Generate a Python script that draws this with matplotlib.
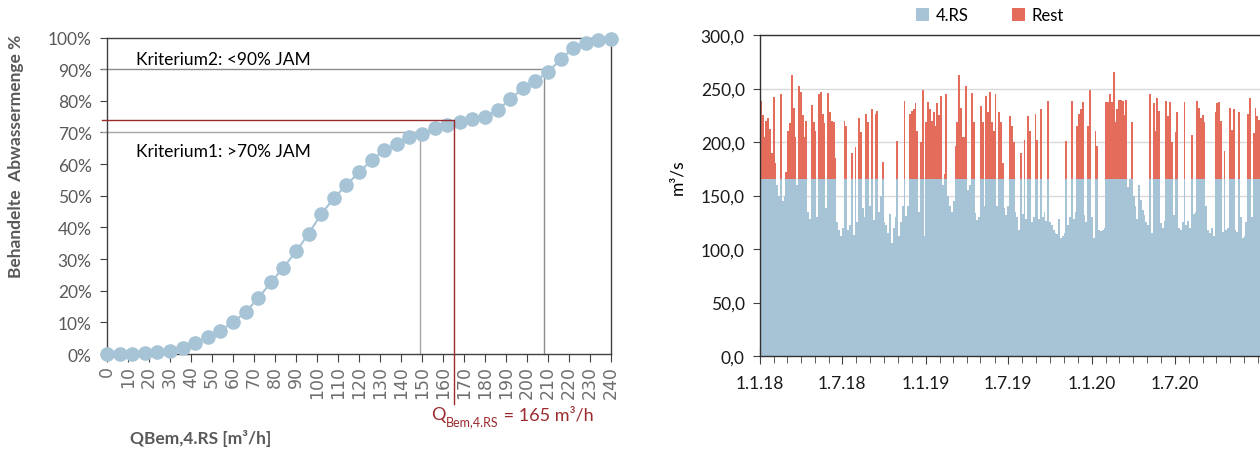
import numpy as np
import pandas as pd
import matplotlib
matplotlib.use("Agg")
import matplotlib.pyplot as plt
import matplotlib.dates as mdates
from matplotlib.patches import Patch

plt.rcParams["font.family"] = ["Lato", "DejaVu Sans"]

# --- left panel: treated share of annual wastewater vs. design flow ---
q_bem = [0, 6, 12, 18, 24, 30, 36, 42, 48, 54, 60, 66, 72, 78, 84, 90, 96,
         102, 108, 114, 120, 126, 132, 138, 144, 150, 156, 162, 168, 174,
         180, 186, 192, 198, 204, 210, 216, 222, 228, 234, 240]
treated_pct = [0, 0, 0, 0.2, 0.7, 1, 2, 3.6, 5.3, 7.4, 10, 13.3, 17.6, 22.6,
               27.3, 32.4, 38, 44.2, 49.2, 53.4, 57.4, 61.2, 64.4, 66.5, 68.5,
               69.6, 71.5, 72.4, 73.3, 74.1, 75, 77.1, 80.5, 83.9, 86.4, 89,
               93.1, 96.7, 98.4, 99.3, 99.5]
q_ticks = [0, 10, 20, 30, 40, 50, 60, 70, 80, 90, 100, 110, 120, 130, 140,
           150, 160, 170, 180, 190, 200, 210, 220, 230, 240]
pct_ticks = [0, 10, 20, 30, 40, 50, 60, 70, 80, 90, 100]
pct_labels = ["0%", "10%", "20%", "30%", "40%", "50%", "60%", "70%", "80%",
              "90%", "100%"]
crit1_q, crit1_pct = 149, 70
crit2_q, crit2_pct = 208, 90
q_design, q_design_pct = 165, 74

# --- right panel: daily inflow split into 4.RS (capped) and rest, 4-day bins ---
flow_start = "2018-01-01"
bin_days = 4
total_flow = [
    238, 225, 205, 220, 222, 212, 190, 242, 180, 160,
    150, 245, 145, 150, 172, 210, 218, 263, 232, 205,
    160, 252, 247, 225, 205, 220, 135, 128, 235, 219,
    210, 130, 245, 247, 226, 218, 138, 246, 228, 220,
    219, 185, 125, 118, 112, 120, 220, 215, 118, 122,
    190, 113, 195, 125, 222, 209, 138, 130, 226, 219,
    140, 231, 127, 226, 229, 135, 150, 181, 125, 122,
    115, 133, 106, 120, 130, 201, 112, 125, 140, 238,
    131, 140, 226, 229, 231, 236, 210, 135, 200, 249,
    112, 219, 237, 231, 220, 228, 215, 236, 225, 243,
    160, 170, 245, 150, 140, 135, 145, 196, 219, 263,
    232, 205, 205, 252, 155, 160, 246, 219, 134, 127,
    130, 234, 219, 140, 243, 228, 247, 219, 210, 245,
    140, 228, 219, 180, 138, 132, 140, 224, 215, 200,
    135, 130, 118, 190, 133, 202, 128, 224, 210, 125,
    130, 226, 202, 128, 231, 130, 135, 126, 238, 125,
    122, 118, 115, 114, 128, 110, 112, 115, 201, 122,
    130, 238, 128, 135, 215, 226, 231, 237, 132, 125,
    215, 249, 130, 110, 210, 196, 118, 117, 118, 120,
    237, 237, 245, 237, 265, 219, 231, 239, 239, 238,
    225, 239, 158, 165, 219, 150, 140, 128, 160, 146,
    136, 132, 125, 122, 245, 115, 236, 210, 241, 229,
    124, 120, 126, 238, 224, 237, 200, 132, 209, 228,
    120, 118, 125, 237, 122, 126, 120, 207, 133, 135,
    238, 232, 222, 225, 219, 140, 118, 115, 120, 112,
    228, 236, 237, 220, 116, 192, 118, 120, 232, 211,
    231, 118, 116, 228, 130, 110, 112, 125, 226, 241,
    130, 208, 232, 224, 221,
]
rs_capacity = 165
date_ticks = ["2018-01-01", "2018-07-01", "2019-01-01", "2019-07-01",
              "2020-01-01", "2020-07-01"]
date_labels = ["1.1.18", "1.7.18", "1.1.19", "1.7.19", "1.1.20", "1.7.20"]
flow_ticks = [0, 50, 100, 150, 200, 250, 300]
flow_labels = ["0,0", "50,0", "100,0", "150,0", "200,0", "250,0", "300,0"]

BLUE = "#a7c4d6"
RED = "#e46c5b"
DARKRED = "#9b2a2c"
GRAY = "#595959"
W, H = 1260, 452

fig = plt.figure(figsize=(W / 100, H / 100), dpi=100)

# left chart
ax1 = fig.add_axes([107 / W, 1 - 355 / H, 504 / W, 316.5 / H])
ax1.plot(q_bem, treated_pct, "-o", color=BLUE, lw=1.5, ms=9.5,
         clip_on=False, zorder=3)
ax1.plot([-2.5, crit1_q, crit1_q], [crit1_pct, crit1_pct, 0],
         color="#a6a6a6", lw=1, clip_on=False, zorder=2)
ax1.plot([-2.5, crit2_q, crit2_q], [crit2_pct, crit2_pct, 0],
         color="#8c8c8c", lw=1, clip_on=False, zorder=2)
ax1.plot([-2.5, q_design, q_design], [q_design_pct, q_design_pct, -15.8],
         color=DARKRED, lw=1, clip_on=False, zorder=4)
ax1.set_xlim(0, 240)
ax1.set_ylim(0, 100)
ax1.set_xticks(q_ticks)
ax1.set_xticklabels([str(v) for v in q_ticks], rotation=90,
                    family="DejaVu Sans", fontsize=12.5, color="#6f6f6f")
ax1.set_yticks(pct_ticks)
ax1.set_yticklabels(pct_labels, fontsize=12.5, color=GRAY)
ax1.tick_params(axis="x", direction="out", length=6, color="#404040", pad=2)
ax1.tick_params(axis="y", direction="out", length=5, color="#404040", pad=6)
for side in ["left", "right", "top", "bottom"]:
    ax1.spines[side].set_color("#404040")
    ax1.spines[side].set_linewidth(1)

ax1.text(13.8, 93.2, "Kriterium2: <90% JAM", fontsize=12.5, va="center")
ax1.text(13.8, 64.1, "Kriterium1: >70% JAM", fontsize=12.5, va="center")

# design flow label: Q with subscript, chained text pieces
q_txt = ax1.text(154.5, -19, "Q", fontsize=13, color=DARKRED, va="center",
                 clip_on=False)
sub_txt = ax1.annotate("Bem,4.RS", xy=(1, 0.05), xycoords=q_txt,
                       fontsize=9, color=DARKRED, ha="left", va="center")
ax1.annotate(" = 165 m³/h", xy=(1, 0.5), xycoords=(sub_txt, q_txt),
             fontsize=13, color=DARKRED, ha="left", va="center")

fig.text(16 / W, 1 - 156 / H, "Behandelte  Abwassermenge %", rotation=90,
         ha="center", va="center", fontsize=12.5, fontweight="bold", color=GRAY)
fig.text(130 / W, 1 - 439 / H, "QBem,4.RS [m³/h]", ha="left", va="center",
         fontsize=12.5, fontweight="bold", color=GRAY)

# right chart
bin_start = pd.date_range(flow_start, periods=len(total_flow),
                          freq=f"{bin_days}D")
flow = np.array(total_flow, dtype=float)
rs_part = np.minimum(flow, rs_capacity)
rest_part = np.clip(flow - rs_capacity, 0, None)

ax2 = fig.add_axes([760 / W, 1 - 357 / H, 500 / W, 321 / H])
ax2.bar(bin_start, rs_part, width=bin_days, align="edge", color=BLUE,
        linewidth=0, zorder=2)
ax2.bar(bin_start, rest_part, width=bin_days, bottom=rs_part, align="edge",
        color=RED, linewidth=0, zorder=2)
ax2.set_xlim(pd.Timestamp(flow_start),
             pd.Timestamp(flow_start) + pd.Timedelta(days=1100))
ax2.set_ylim(0, 300)
ax2.set_yticks(flow_ticks)
ax2.set_yticklabels(flow_labels, fontsize=12.5, color="#1a1a1a")
ax2.set_xticks(pd.to_datetime(date_ticks))
ax2.set_xticklabels(date_labels, fontsize=12.5, color="#1a1a1a")
ax2.xaxis.set_minor_locator(mdates.MonthLocator())
ax2.tick_params(axis="x", which="major", direction="inout", length=12,
                color="#404040", pad=8)
ax2.tick_params(axis="x", which="minor", direction="out", length=5,
                color="#404040")
ax2.tick_params(axis="y", direction="out", length=5, color="#404040", pad=6)
ax2.grid(axis="y", color="#d9d9d9", lw=1)
ax2.set_axisbelow(True)
ax2.spines["right"].set_visible(False)
for side in ["left", "top", "bottom"]:
    ax2.spines[side].set_color("#303030")
    ax2.spines[side].set_linewidth(1)

fig.text(677 / W, 1 - 177 / H, "m³/s", rotation=90, ha="center",
         va="center", fontsize=12.5)

handles = [Patch(facecolor=BLUE, label="4.RS"),
           Patch(facecolor=RED, label="Rest")]
fig.legend(handles=handles, loc="center", bbox_to_anchor=(990 / W, 1 - 16 / H),
           ncol=2, frameon=False, fontsize=12, handlelength=0.8,
           handleheight=0.8, handletextpad=0.4, columnspacing=2.6)

fig.savefig("out.png", dpi=100)
